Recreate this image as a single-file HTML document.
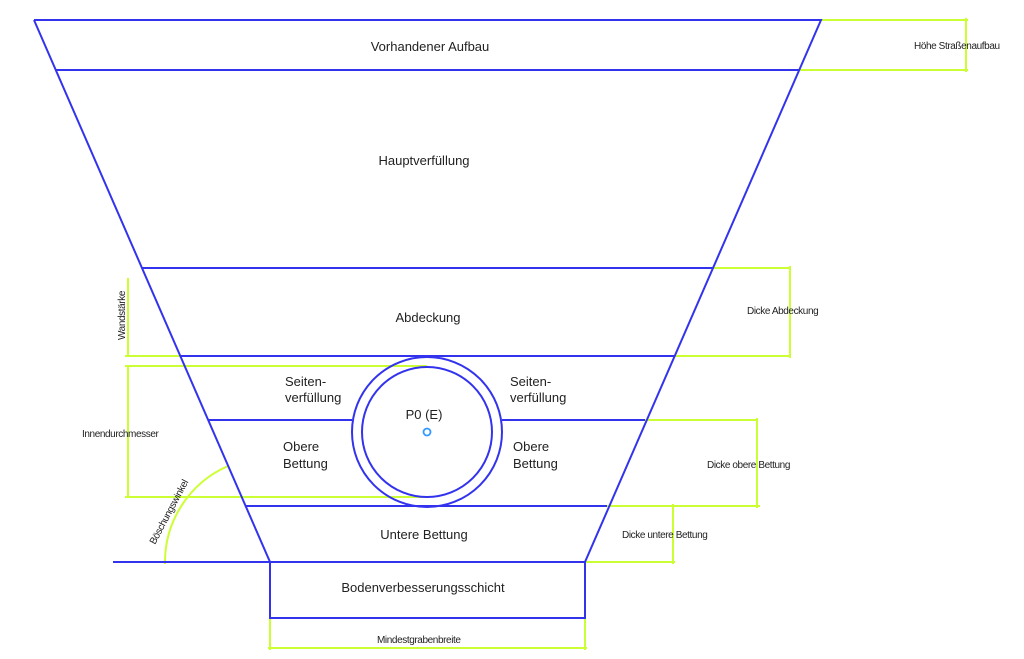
<!DOCTYPE html>
<html><head><meta charset="utf-8"><style>
html,body{margin:0;padding:0;background:#fff;}
svg{display:block;}
text{font-family:"Liberation Sans",sans-serif;fill:#222;}
</style></head><body>
<svg width="1024" height="659" viewBox="0 0 1024 659" xmlns="http://www.w3.org/2000/svg">
<circle cx="427" cy="432" r="75" fill="#fff"/>
<g stroke="#ccff33" stroke-width="2" fill="none">
<line x1="821" y1="20" x2="968" y2="20"/><line x1="799" y1="70" x2="968" y2="70"/><line x1="966" y1="18" x2="966" y2="72"/>
<line x1="713" y1="268" x2="791" y2="268"/><line x1="674" y1="356" x2="791" y2="356"/><line x1="790" y1="266" x2="790" y2="358"/>
<line x1="645" y1="420" x2="758" y2="420"/><line x1="607" y1="506" x2="760" y2="506"/><line x1="757" y1="418" x2="757" y2="508"/>
<line x1="607" y1="506" x2="675" y2="506"/><line x1="585" y1="562" x2="675" y2="562"/><line x1="673" y1="504" x2="673" y2="564"/>
<line x1="128" y1="278" x2="128" y2="356"/><line x1="125" y1="356" x2="180" y2="356"/>
<line x1="125" y1="366" x2="427" y2="366"/><line x1="128" y1="366" x2="128" y2="497"/><line x1="125" y1="497" x2="427" y2="497"/>
<line x1="270" y1="618" x2="270" y2="650"/><line x1="585" y1="618" x2="585" y2="650"/><line x1="268" y1="648" x2="587" y2="648"/>
<path d="M165 564 A105 105 0 0 1 228 466"/>
</g>
<g stroke="#3333ee" stroke-width="2" fill="none">
<polyline points="34,20 270,562 270,618 585,618 585,562 821,20 34,20"/>
<line x1="55" y1="70" x2="799" y2="70"/>
<line x1="142" y1="268" x2="713" y2="268"/>
<line x1="180" y1="356" x2="674" y2="356"/>
<line x1="208" y1="420" x2="352" y2="420"/><line x1="502" y1="420" x2="645" y2="420"/>
<line x1="246" y1="506" x2="607" y2="506"/>
<line x1="113" y1="562" x2="585" y2="562"/>
<circle cx="427" cy="432" r="75"/>
<circle cx="427" cy="432" r="65"/>
</g>
<circle cx="427" cy="432" r="3.5" fill="none" stroke="#3399ff" stroke-width="1.8"/>
<g font-size="13" text-anchor="middle">
<text x="430" y="51">Vorhandener Aufbau</text>
<text x="424" y="165">Hauptverfüllung</text>
<text x="428" y="322">Abdeckung</text>
<text x="424" y="539">Untere Bettung</text>
<text x="423" y="592">Bodenverbesserungsschicht</text>
<text x="424" y="419">P0 (E)</text>
</g>
<g font-size="13">
<text x="285" y="386">Seiten-</text><text x="285" y="402">verfüllung</text>
<text x="283" y="451">Obere</text><text x="283" y="468">Bettung</text>
<text x="510" y="386">Seiten-</text><text x="510" y="402">verfüllung</text>
<text x="513" y="451">Obere</text><text x="513" y="468">Bettung</text>
</g>
<g font-size="10" letter-spacing="-0.4">
<text x="914" y="49">Höhe Straßenaufbau</text>
<text x="747" y="314">Dicke Abdeckung</text>
<text x="707" y="468">Dicke obere Bettung</text>
<text x="622" y="538">Dicke untere Bettung</text>
<text x="82" y="437">Innendurchmesser</text>
<text x="377" y="643">Mindestgrabenbreite</text>
<text transform="translate(125,340) rotate(-90)">Wandstärke</text>
<text transform="translate(155,545) rotate(-62)">Böschungswinkel</text>
</g>
</svg>
</body></html>
